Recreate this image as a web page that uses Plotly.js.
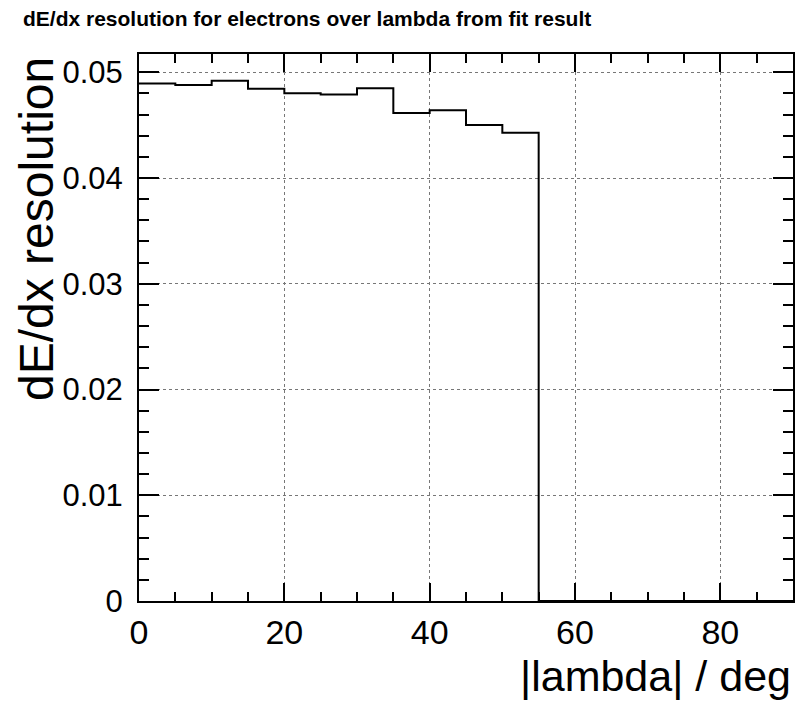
<!DOCTYPE html>
<html>
<head>
<meta charset="utf-8">
<script src="https://cdn.plot.ly/plotly-3.0.1.min.js"></script>
<style>
  html, body { margin: 0; padding: 0; background: #ffffff; }
  #chart { width: 800px; height: 715px; }
</style>
</head>
<body>
<div id="chart"></div>
<script>
// Histogram bins: |lambda| in degrees, 5-degree bins from 0 to 90
const binLowEdges = [0, 5, 10, 15, 20, 25, 30, 35, 40, 45, 50, 55, 60, 65, 70, 75, 80, 85];
const binUpperEdge = 90;
// dE/dx resolution per bin
const resolution = [0.04893, 0.04880, 0.04921, 0.04845, 0.04801, 0.04789, 0.04848,
                    0.04615, 0.04640, 0.04501, 0.04429, 0, 0, 0, 0, 0, 0, 0];

const chartTitle = "dE/dx resolution for electrons over lambda from fit result";
const xTitle = "|lambda| / deg";
const yTitle = "dE/dx resolution";

// step outline: every bin edge, last value repeated at the upper edge
const stepX = binLowEdges.concat([binUpperEdge]);
const stepY = resolution.concat([resolution[resolution.length - 1]]);

const FONT = "Liberation Sans, Arial, Helvetica, sans-serif";

const trace = {
  type: "scatter",
  mode: "lines",
  x: stepX,
  y: stepY,
  line: { shape: "hv", color: "#000000", width: 2 },
  hoverinfo: "skip",
  showlegend: false
};

const L = 139, R = 7, T = 54, B = 114;
const plotW = 800 - L - R, plotH = 715 - T - B;

const layout = {
  width: 800,
  height: 715,
  paper_bgcolor: "#ffffff",
  plot_bgcolor: "#ffffff",
  margin: { l: L, r: R, t: T, b: B, pad: 0 },
  showlegend: false,
  title: {
    text: chartTitle,
    font: { family: FONT, size: 21, color: "#000000", weight: "bold" },
    xref: "container", yref: "container",
    x: 23 / 800, xanchor: "left",
    y: 1 - 19 / 715, yanchor: "middle"
  },
  xaxis: {
    range: [0, 90],
    dtick: 20,
    tick0: 0,
    ticks: "inside",
    ticklen: 18,
    tickwidth: 2,
    tickcolor: "#000000",
    showline: true,
    linecolor: "#000000",
    linewidth: 2,
    mirror: "ticks",
    showgrid: true,
    gridcolor: "#777777",
    gridwidth: 1,
    griddash: "dot",
    zeroline: false,
    tickfont: { family: FONT, size: 34, color: "#000000" },
    ticklabelstandoff: 0,
    minor: { dtick: 5, ticks: "inside", ticklen: 9, tickwidth: 2, tickcolor: "#000000", showgrid: false },
    fixedrange: true
  },
  yaxis: {
    range: [0, 0.05173],
    dtick: 0.01,
    tick0: 0,
    ticks: "inside",
    ticklen: 20,
    tickwidth: 2,
    tickcolor: "#000000",
    showline: true,
    linecolor: "#000000",
    linewidth: 2,
    mirror: "ticks",
    showgrid: true,
    gridcolor: "#777777",
    gridwidth: 1,
    griddash: "dot",
    zeroline: false,
    tickfont: { family: FONT, size: 31, color: "#000000" },
    ticklabelstandoff: 8,
    minor: { dtick: 0.002, ticks: "inside", ticklen: 10, tickwidth: 2, tickcolor: "#000000", showgrid: false },
    fixedrange: true
  },
  annotations: [
    {
      text: yTitle,
      textangle: -90,
      font: { family: FONT, size: 48, color: "#000000" },
      xref: "paper", yref: "paper",
      x: (37 - L) / plotW, xanchor: "center",
      y: (715 - B - 55) / plotH, yanchor: "top",
      showarrow: false
    },
    {
      text: xTitle,
      font: { family: FONT, size: 43, color: "#000000" },
      xref: "paper", yref: "paper",
      x: 1, xanchor: "right",
      y: (715 - B - 676) / plotH, yanchor: "middle",
      showarrow: false
    }
  ]
};

Plotly.newPlot("chart", [trace], layout, { displayModeBar: false, staticPlot: true });
</script>
</body>
</html>
